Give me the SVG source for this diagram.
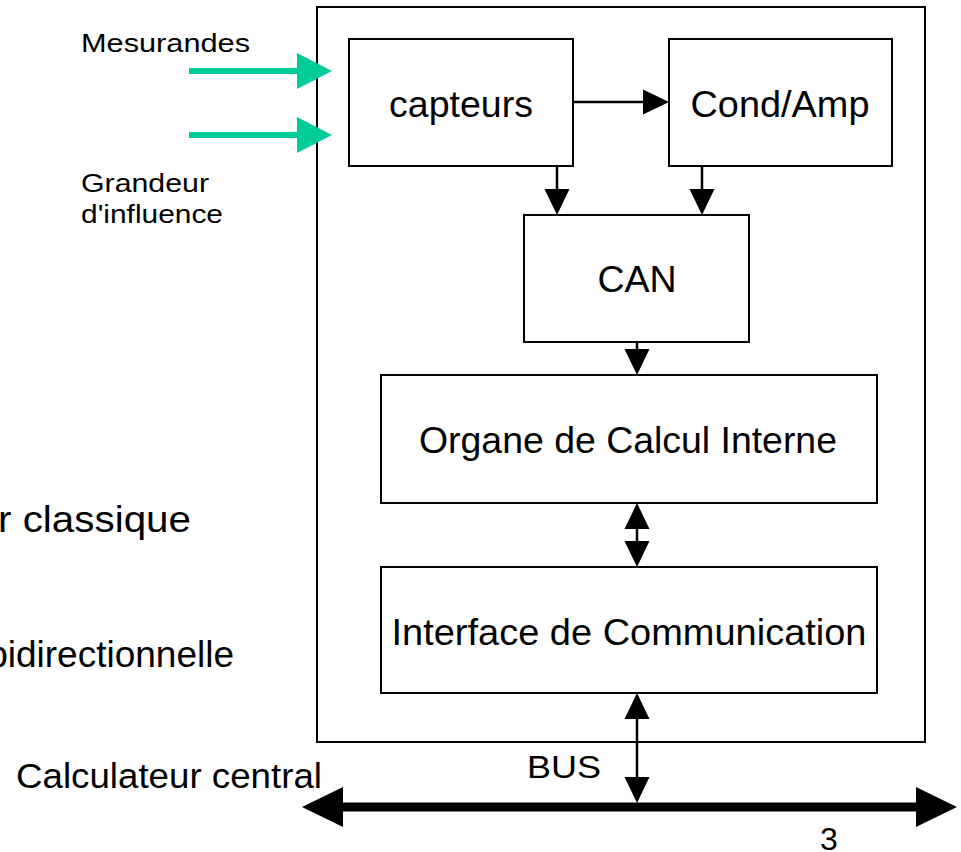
<svg xmlns="http://www.w3.org/2000/svg" width="961" height="852" viewBox="0 0 961 852">
<style>
  .box { fill: #ffffff; stroke: #000000; stroke-width: 2; }
  .lbl { font-family: "Liberation Sans", Arial, sans-serif; fill: #000000; }
  .node { font-size: 37.5px; text-anchor: middle; }
  .conn { stroke: #000000; stroke-width: 2.5; fill: none; }
  .green { stroke: #00CC99; stroke-width: 6; fill: none; }
  .bus { stroke: #000000; stroke-width: 9; fill: none; }
</style>
<defs>
  <marker id="ah" markerUnits="userSpaceOnUse" markerWidth="27" markerHeight="26" refX="0" refY="12.5" orient="auto-start-reverse" overflow="visible">
    <path d="M0,0 L26,12.5 L0,25 z" fill="#000000"/>
  </marker>
  <marker id="ahg" markerUnits="userSpaceOnUse" markerWidth="36" markerHeight="37" refX="0" refY="18" orient="auto" overflow="visible">
    <path d="M0,0 L35,18 L0,36 z" fill="#00CC99"/>
  </marker>
  <marker id="ahb" markerUnits="userSpaceOnUse" markerWidth="42" markerHeight="41" refX="0" refY="20" orient="auto-start-reverse" overflow="visible">
    <path d="M0,0 L41,20 L0,40 z" fill="#000000"/>
  </marker>
</defs>
<rect width="961" height="852" fill="#ffffff"/>

<g id="module">
  <rect class="box" x="317" y="7" width="608" height="735"/>
</g>

<g id="capteurs">
  <rect class="box" x="349" y="39" width="224" height="127"/>
  <text class="lbl node" x="461" y="117">capteurs</text>
</g>
<g id="condamp">
  <rect class="box" x="669" y="39" width="223" height="127"/>
  <text class="lbl node" x="780" y="117" textLength="179" lengthAdjust="spacingAndGlyphs">Cond/Amp</text>
</g>
<g id="can">
  <rect class="box" x="524" y="215" width="225" height="127"/>
  <text class="lbl node" x="637" y="292">CAN</text>
</g>
<g id="organe">
  <rect class="box" x="381" y="375" width="496" height="128"/>
  <text class="lbl node" x="628" y="453" textLength="418" lengthAdjust="spacingAndGlyphs">Organe de Calcul Interne</text>
</g>
<g id="interface">
  <rect class="box" x="381" y="567" width="496" height="126"/>
  <text class="lbl node" x="629" y="645" textLength="475" lengthAdjust="spacingAndGlyphs">Interface de Communication</text>
</g>

<g id="connectors">
  <line class="green" x1="189" y1="71" x2="297" y2="71" marker-end="url(#ahg)"/>
  <line class="green" x1="189" y1="135" x2="297" y2="135" marker-end="url(#ahg)"/>
  <line class="conn" x1="573" y1="102" x2="643" y2="102" marker-end="url(#ah)"/>
  <line class="conn" x1="557" y1="166" x2="557" y2="189" marker-end="url(#ah)"/>
  <line class="conn" x1="702" y1="166" x2="702" y2="189" marker-end="url(#ah)"/>
  <line class="conn" x1="637" y1="342" x2="637" y2="349" marker-end="url(#ah)"/>
  <line class="conn" x1="637" y1="529" x2="637" y2="541" marker-start="url(#ah)" marker-end="url(#ah)"/>
  <line class="conn" x1="637" y1="719" x2="637" y2="777" marker-start="url(#ah)" marker-end="url(#ah)"/>
  <line class="bus" x1="343" y1="807" x2="916" y2="807" marker-start="url(#ahb)" marker-end="url(#ahb)"/>
</g>

<g id="labels">
  <text class="lbl" x="81" y="52" font-size="26.5" textLength="169" lengthAdjust="spacingAndGlyphs">Mesurandes</text>
  <text class="lbl" x="81" y="192" font-size="26" textLength="128" lengthAdjust="spacingAndGlyphs">Grandeur</text>
  <text class="lbl" x="81" y="223" font-size="26" textLength="142" lengthAdjust="spacingAndGlyphs">d'influence</text>
  <text class="lbl" x="-2" y="532" font-size="37.7" textLength="193" lengthAdjust="spacingAndGlyphs">r classique</text>
  <text class="lbl" x="234" y="667" font-size="37" text-anchor="end">bidirectionnelle</text>
  <text class="lbl" x="16" y="788" font-size="35.5" textLength="306" lengthAdjust="spacingAndGlyphs">Calculateur central</text>
  <text class="lbl" x="527" y="778" font-size="30.5" textLength="74" lengthAdjust="spacingAndGlyphs">BUS</text>
  <text class="lbl" x="820" y="850" font-size="32">3</text>
</g>
</svg>
